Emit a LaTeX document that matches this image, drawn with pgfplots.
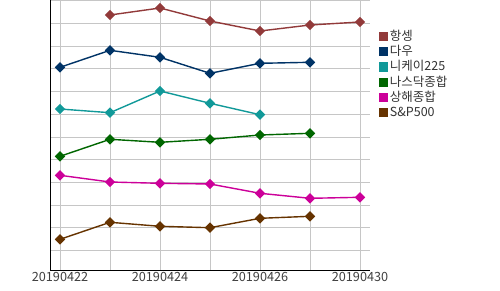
\documentclass[border=0pt]{standalone}
\usepackage{pgfplots}
\pgfplotsset{compat=1.18}
\usepackage{fontspec}
\setmainfont{Noto Sans CJK KR}
\definecolor{hs}{RGB}{146,58,58}
\definecolor{dow}{RGB}{0,51,102}
\definecolor{nk}{RGB}{17,153,153}
\definecolor{nq}{RGB}{0,102,0}
\definecolor{sh}{RGB}{204,0,153}
\definecolor{sp}{RGB}{102,51,0}
\begin{document}
\begin{tikzpicture}[x=1pt,y=1pt]
\path[use as bounding box] (0,0) rectangle (500,290);
\begin{axis}[
  at={(50pt,20pt)}, anchor=south west,
  scale only axis, width=320pt, height=270pt,
  xmin=-0.2, xmax=6.2, ymin=0, ymax=270,
  axis x line=bottom, axis y line=left,
  axis line style={black, line width=0.8pt, -},
  xtick={0,...,6},
  xticklabels={20190422,,20190424,,20190426,,20190430},
  ytick={19.7,42.4,65.1,87.8,110.5,133.2,155.9,178.6,201.3,224,246.7,269.4},
  yticklabels={},
  grid=major,
  major grid style={gray!45, line width=0.6pt},
  major tick length=0pt,
  tick style={draw=none},
  xticklabel style={font=\fontsize{12.7}{14}\selectfont, text=black!75, yshift=1.5pt},
  every axis plot/.append style={line width=1.4pt, mark=square*, mark size=3pt, mark options={rotate=45}},
  legend style={draw=none, fill=none, at={(1.028,0.893)}, anchor=north west,
    font=\fontsize{12.5}{14}\selectfont, text=black!80, row sep=0pt, inner sep=0pt,
    nodes={inner sep=1.5pt, text height=10pt, text depth=2.2pt}},
  legend cell align=left,
  legend image code/.code={\fill[#1, draw=none] (0pt,-4.6pt) rectangle (9.3pt,4.6pt);},
  clip=false,
]
\addplot[color=hs] coordinates {(1,255) (2,262) (3,249) (4,239) (5,245) (6,248)};
\addlegendentry{항셍}
\addplot[color=dow] coordinates {(0,202.7) (1,219.7) (2,212.7) (3,196.7) (4,206.7) (5,207.7)};
\addlegendentry{다우}
\addplot[color=nk] coordinates {(0,161) (1,157.3) (2,179) (3,166.7) (4,155.3)};
\addlegendentry{니케이225}
\addplot[color=nq] coordinates {(0,113.7) (1,130.7) (2,127.7) (3,130.7) (4,135) (5,136.7)};
\addlegendentry{나스닥종합}
\addplot[color=sh] coordinates {(0,94.7) (1,88) (2,86.7) (3,86) (4,76.7) (5,71.7) (6,72.7)};
\addlegendentry{상해종합}
\addplot[color=sp] coordinates {(0,30.7) (1,47.7) (2,43.7) (3,42.3) (4,51.7) (5,53.7)};
\addlegendentry{S\&P500}
\end{axis}
\end{tikzpicture}
\end{document}
